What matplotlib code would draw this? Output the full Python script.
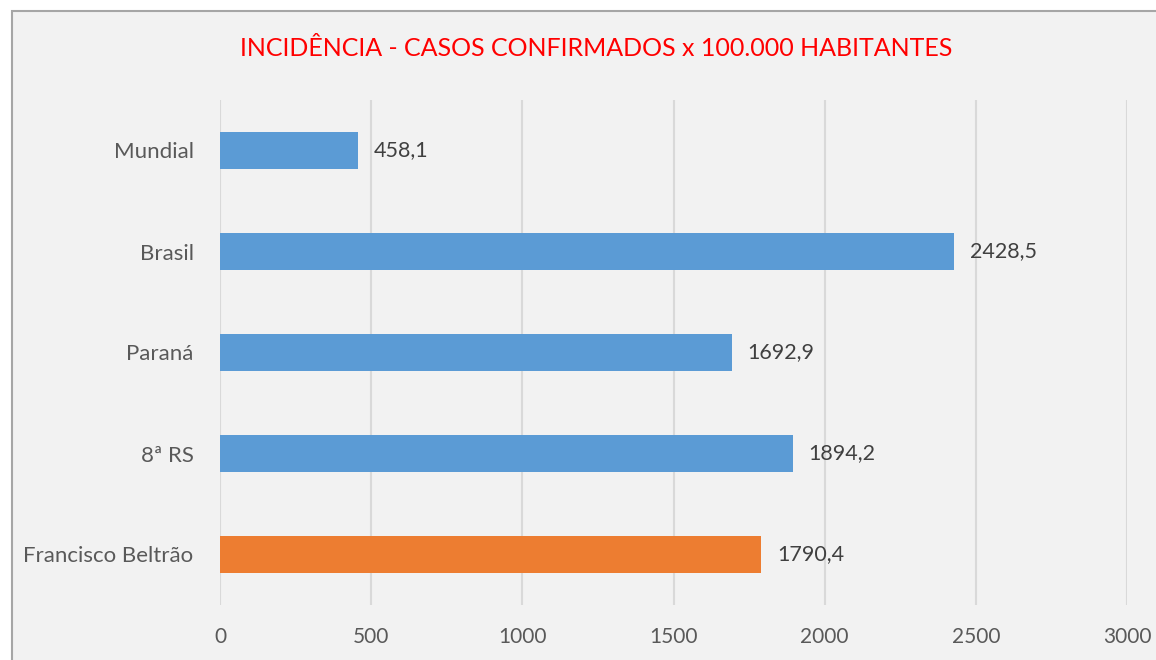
import matplotlib.pyplot as plt
from matplotlib.patches import Rectangle

categories = ["Mundial", "Brasil", "Paraná", "8ª RS", "Francisco Beltrão"]
values = [458.1, 2428.5, 1692.9, 1894.2, 1790.4]
colors = ["#5B9BD5", "#5B9BD5", "#5B9BD5", "#5B9BD5", "#ED7D31"]
xticks = [0, 500, 1000, 1500, 2000, 2500, 3000]

plt.rcParams["font.family"] = ["Lato", "DejaVu Sans"]

W, H = 1156, 660
fig = plt.figure(figsize=(W / 100, H / 100), dpi=100, facecolor="white")

# chart area background with border (right/bottom cut off)
fig.patches.append(Rectangle((12 / W, -0.1), 1.2, 1 - 11 / H + 0.1,
                             transform=fig.transFigure, facecolor="#F2F2F2",
                             edgecolor="#A6A6A6", linewidth=1.5, zorder=-10))

ax = fig.add_axes([220 / W, 1 - 605 / H, (1127 - 220) / W, (605 - 100) / H])
ax.set_facecolor("none")
ax.set_zorder(1)

y = list(range(len(categories)))
ax.barh(y, values, height=0.36, color=colors, zorder=3)
for yi, v in zip(y, values):
    ax.text(v + 52, yi, f"{v:.1f}".replace(".", ","), va="center", ha="left",
            fontsize=15.5, color="#404040")

ax.set_xlim(0, 3000)
ax.set_ylim(4.5, -0.5)
ax.set_xticks(xticks)
ax.set_yticks(y)
ax.set_yticklabels(categories)
ax.tick_params(axis="both", length=0, labelcolor="#595959")
ax.tick_params(axis="x", pad=16, labelsize=15)
ax.tick_params(axis="y", pad=19, labelsize=16)
ax.grid(axis="x", color="#D9D9D9", linewidth=1.5, zorder=0)
for s in ax.spines.values():
    s.set_visible(False)

fig.text(596 / W, 1 - 48 / H, "INCIDÊNCIA - CASOS CONFIRMADOS x 100.000 HABITANTES",
         color="#FF0000", fontsize=18, ha="center", va="center")

plt.savefig("out.png", dpi=100)
